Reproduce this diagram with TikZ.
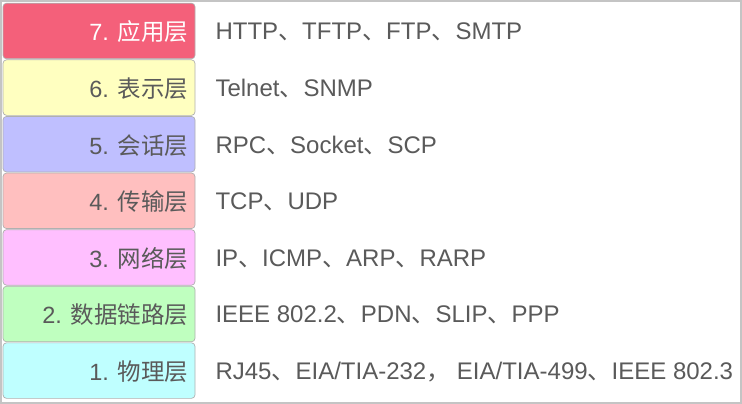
\documentclass[tikz,border=0pt]{standalone}
\usepackage{fontspec}
\setmainfont{Liberation Sans}
\newfontfamily\cjk{Noto Sans CJK SC}
\newcommand\dun{{\cjk 、}}
\definecolor{framegray}{HTML}{C4C4C4}
\definecolor{boxgray}{HTML}{B0B0B0}
\definecolor{txtgray}{HTML}{5A5A5A}
\definecolor{cseven}{HTML}{F4607A}
\definecolor{csix}{HTML}{FFFFC0}
\definecolor{cfive}{HTML}{BFBFFF}
\definecolor{cfour}{HTML}{FFBFBF}
\definecolor{cthree}{HTML}{FFBFFF}
\definecolor{ctwo}{HTML}{BFFFBF}
\definecolor{cone}{HTML}{BFFFFF}
\tikzset{
  layerbox/.style={draw=boxgray, line width=0.7pt, rounded corners=3.5pt,
    minimum width=192pt, minimum height=55.5pt, inner sep=0pt},
  lbl/.style={anchor=east, inner sep=0pt, text=txtgray,
    font=\fontsize{23.5}{28}\selectfont},
  proto/.style={anchor=west, inner sep=0pt, text=txtgray,
    font=\fontsize{24}{28}\selectfont}
}
\begin{document}
\begin{tikzpicture}[x=1pt,y=-1pt]
\useasboundingbox (0,0) rectangle (742,404);
\fill[white] (0,0) rectangle (742,404);
\draw[framegray, line width=2pt] (1,1) rectangle (741,403);
% boxes
\node[layerbox, fill=cseven] (b7) at (99,31.0) {};
\node[layerbox, fill=csix]   (b6) at (99,87.6) {};
\node[layerbox, fill=cfive]  (b5) at (99,144.2) {};
\node[layerbox, fill=cfour]  (b4) at (99,200.8) {};
\node[layerbox, fill=cthree] (b3) at (99,257.4) {};
\node[layerbox, fill=ctwo]   (b2) at (99,314.0) {};
\node[layerbox, fill=cone]   (b1) at (99,370.6) {};
% labels
\node[lbl, text=white] (l7) at ([xshift=-7pt,yshift=-1pt]b7.east) {7. {\cjk 应用层}};
\node[lbl] (l6) at ([xshift=-7pt,yshift=-1pt]b6.east) {6. {\cjk 表示层}};
\node[lbl] (l5) at ([xshift=-7pt,yshift=-1pt]b5.east) {5. {\cjk 会话层}};
\node[lbl] (l4) at ([xshift=-7pt,yshift=-1pt]b4.east) {4. {\cjk 传输层}};
\node[lbl] (l3) at ([xshift=-7pt,yshift=-1pt]b3.east) {3. {\cjk 网络层}};
\node[lbl] (l2) at ([xshift=-7pt,yshift=-1pt]b2.east) {2. {\cjk 数据链路层}};
\node[lbl] (l1) at ([xshift=-7pt,yshift=-1pt]b1.east) {1. {\cjk 物理层}};
% protocols
\node[proto] (p7) at ([xshift=20pt,yshift=-1pt]b7.east) {HTTP\dun TFTP\dun FTP\dun SMTP};
\node[proto] (p6) at ([xshift=20pt,yshift=-1pt]b6.east) {Telnet\dun SNMP};
\node[proto] (p5) at ([xshift=20pt,yshift=-1pt]b5.east) {RPC\dun Socket\dun SCP};
\node[proto] (p4) at ([xshift=20pt,yshift=-1pt]b4.east) {TCP\dun UDP};
\node[proto] (p3) at ([xshift=20pt,yshift=-1pt]b3.east) {IP\dun ICMP\dun ARP\dun RARP};
\node[proto] (p2) at ([xshift=20pt,yshift=-1pt]b2.east) {IEEE 802.2\dun PDN\dun SLIP\dun PPP};
\node[proto] (p1) at ([xshift=20pt,yshift=-1pt]b1.east) {RJ45\dun EIA/TIA-232{\cjk ，} EIA/TIA-499\dun IEEE 802.3};
\end{tikzpicture}
\end{document}
